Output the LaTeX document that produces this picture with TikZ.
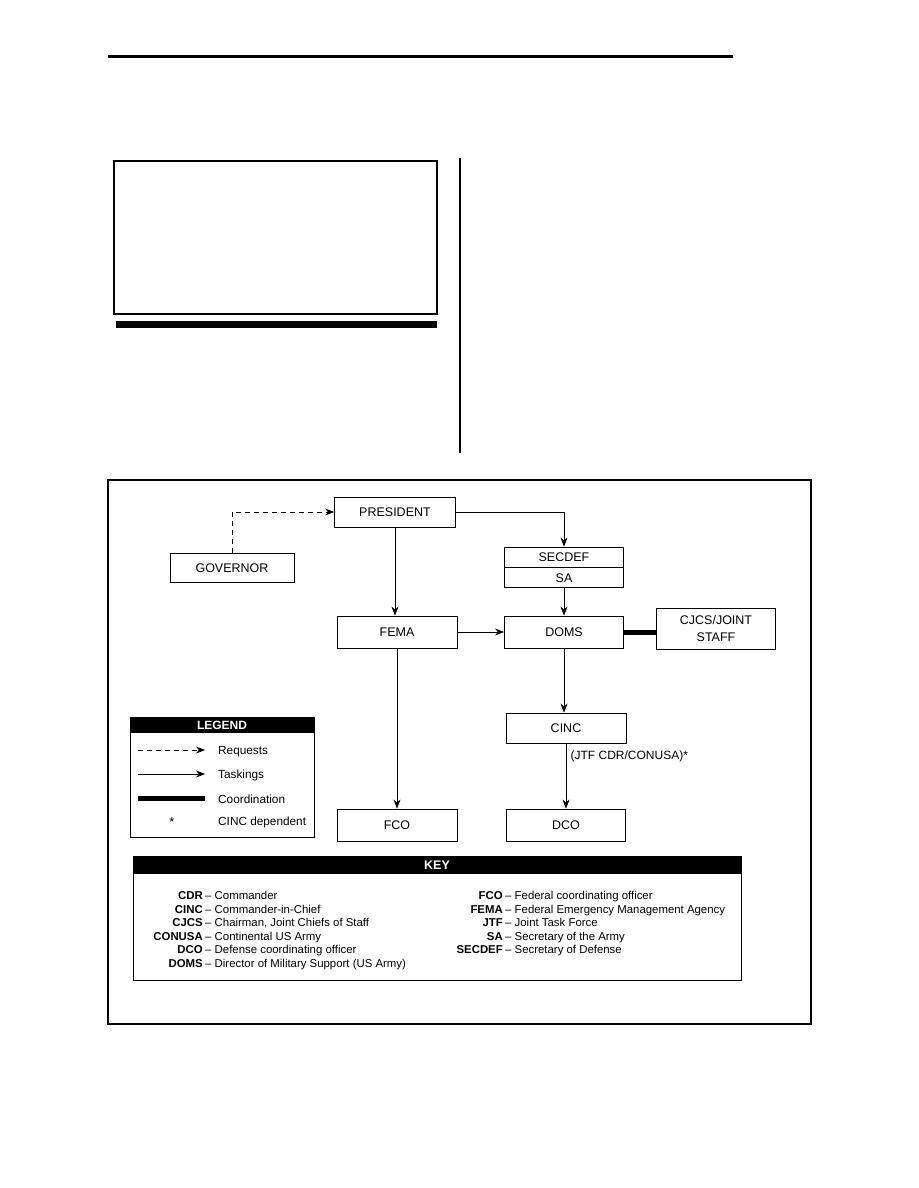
\documentclass[tikz,border=0pt]{standalone}
\usepackage{fontspec}
\setmainfont{Liberation Sans}
\usetikzlibrary{arrows.meta,positioning}

\tikzset{
  orgbox/.style={draw,line width=0.9pt,minimum width=120pt,minimum height=31pt,inner sep=0pt,
    align=center,font=\fontsize{12.5}{17}\selectfont},
  task/.style={-{Stealth[length=9pt,width=7pt]},line width=0.6pt},
  request/.style={task,dash pattern=on 5pt off 4pt},
  coordline/.style={line width=5pt},
  keytext/.style={font=\fontsize{11.4}{12}\selectfont,inner sep=0pt}
}

\begin{document}
\begin{tikzpicture}[x=1pt,y=-1pt,>=Stealth]
\useasboundingbox (0,0) rectangle (918,1188);
% page furniture
\draw[line width=3pt] (108,57)--(733,57);
\draw[line width=2pt] (114,161) rectangle (437,314);
\fill (116,321) rectangle (437,328);
\draw[line width=1.5pt] (460,158)--(460,453);
\draw[line width=1.2pt] (108,480) rectangle (811,1024);

% organisation boxes
\node[orgbox,minimum width=121pt,minimum height=30pt] (pres) at (395,512) {PRESIDENT};
\node[orgbox,minimum width=124pt,minimum height=29pt] (gov) at (232,568) {GOVERNOR};
\node[orgbox,minimum width=119pt,minimum height=20pt] (secdef) at (564,557) {SECDEF};
\node[orgbox,minimum width=119pt,minimum height=20pt,below=0pt of secdef] (sa) {SA};
\node[orgbox,minimum height=32pt] (fema) at (397,632) {FEMA};
\node[orgbox,minimum width=119pt,minimum height=32pt] (doms) at (564,632) {DOMS};
\node[orgbox,minimum width=119pt,minimum height=41pt] (cjcs) at (716,629) {CJCS/JOINT\\STAFF};
\node[orgbox,minimum height=30pt] (cinc) at (566,728) {CINC};
\node[orgbox,minimum height=32pt] (fco) at (397,825) {FCO};
\node[orgbox,minimum width=119pt,minimum height=32pt] (dco) at (566,825) {DCO};

% connectors
\draw[request] (gov.north) |- (pres.west);
\draw[task] (pres.east) -| (secdef.north);
\draw[task] (pres.south) -- (pres.south |- fema.north);
\draw[task] (sa.south) -- (sa.south |- doms.north);
\draw[task] (fema.east) -- (doms.west);
\draw[coordline] (doms.east) -- (doms.east -| cjcs.west);
\draw[task] (doms.south) -- (doms.south |- cinc.north);
\draw[task] (cinc.south) -- (dco.north) node[pos=0.2,right=1pt,font=\fontsize{12}{12}\selectfont] (jtf) {(JTF CDR/CONUSA)*};
\draw[task] (fema.south) -- (fco.north);

% legend
\draw[line width=0.8pt] (130,717) rectangle (314,837);
\fill (130,717) rectangle (314,733);
\node[text=white,font=\fontsize{12}{12}\bfseries] (legendhead) at (222,725.5) {LEGEND};
\coordinate (l1a) at (138,750); \coordinate (l1b) at (205,750);
\coordinate (l2a) at (138,774); \coordinate (l2b) at (205,774);
\coordinate (l3a) at (138,798); \coordinate (l3b) at (205,798);
\draw[request] (l1a) -- (l1b);
\draw[task] (l2a) -- (l2b);
\draw[coordline] (l3a) -- (l3b);
\node[font=\fontsize{13}{13}\selectfont] (star) at (172,822) {*};
\foreach \y/\t in {750/Requests,774/Taskings,798/Coordination,821/CINC dependent}
  \node[keytext,font=\fontsize{11.8}{12}\selectfont,anchor=west] at (218,\y+1.5) {\t};

% key
\draw[line width=0.8pt] (133,856) rectangle (741,980);
\fill (133,856) rectangle (741,874);
\node[text=white,font=\fontsize{12.5}{12}\bfseries] (keyhead) at (437,865.5) {KEY};
\foreach \y/\a/\t in {899/CDR/Commander,913/CINC/Commander-in-Chief,
    926/CJCS/{Chairman, Joint Chiefs of Staff},940/CONUSA/Continental US Army,
    953/DCO/Defense coordinating officer,967/DOMS/Director of Military Support (US Army)}{
  \node[keytext,anchor=base east,font=\fontsize{11.4}{12}\bfseries] at (203,\y) {\a};
  \node[keytext,anchor=base west] at (205,\y) {-- \t};
}
\foreach \y/\a/\t in {899/FCO/Federal coordinating officer,913/FEMA/Federal Emergency Management Agency,
    926/JTF/Joint Task Force,940/SA/Secretary of the Army,953/SECDEF/Secretary of Defense}{
  \node[keytext,anchor=base east,font=\fontsize{11.4}{12}\bfseries] at (503,\y) {\a};
  \node[keytext,anchor=base west] at (505,\y) {-- \t};
}
\end{tikzpicture}
\end{document}
